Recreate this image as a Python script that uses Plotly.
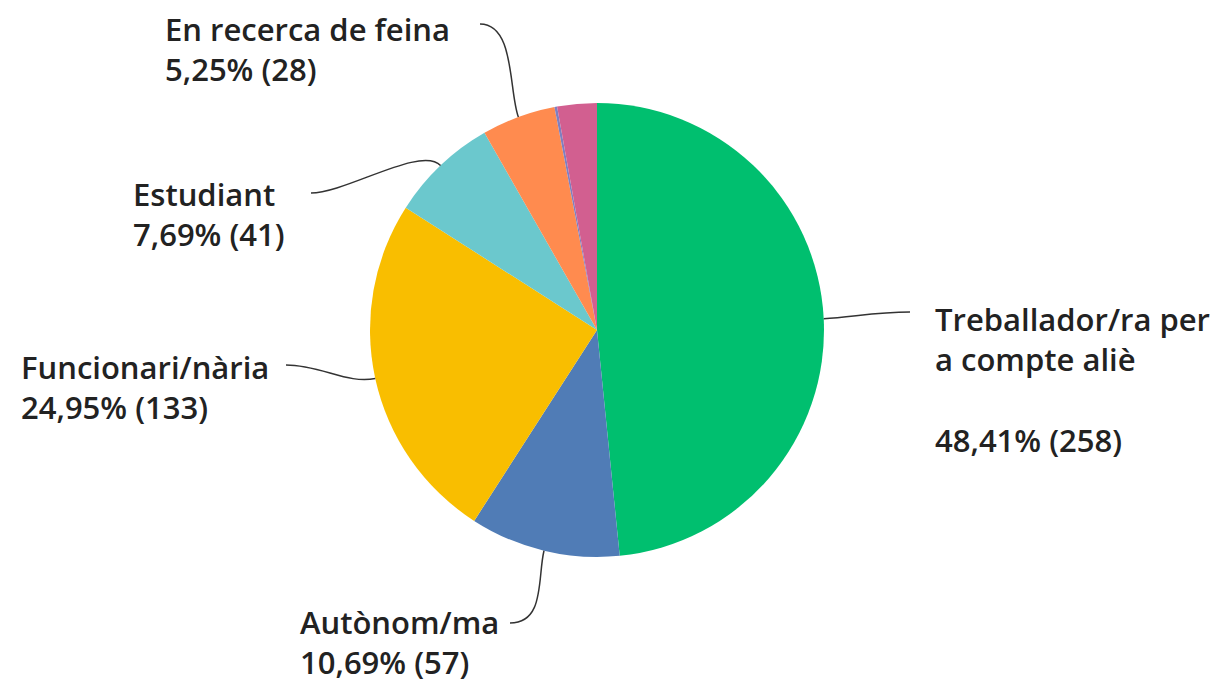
import math
import plotly.graph_objects as go

# ---- data ----
categories = ["Treballador/ra per a compte aliè", "Autònom/ma", "Funcionari/nària",
              "Estudiant", "En recerca de feina", "Altres", "Jubilat/ada"]
label_lines = [["Treballador/ra per", "a compte aliè", ""], ["Autònom/ma"], ["Funcionari/nària"],
               ["Estudiant"], ["En recerca de feina"], None, None]
values = [258, 57, 133, 41, 28, 1, 15]
colors = ["#00BF6F", "#507CB6", "#F9BE00", "#6BC8CD", "#FF8B4F", "#7F7FC0", "#D25F90"]

W, H = 1220, 685
total = sum(values)

# pie placement (pixels)
CX, CY, R = 597, 330, 227
dom_x = [(CX - R) / W, (CX + R) / W]
dom_y = [1 - (CY + R) / H, 1 - (CY - R) / H]

# label layout: (text left x, anchor y, y anchor, leader end x, leader end y)
label_layout = {
    0: (933, 296, "top", 910, 312),
    1: (298, 685, "bottom", 510, 623),
    2: (19, 344, "top", 286, 365),
    3: (131, 171, "top", 311, 193),
    4: (163, 6, "top", 480, 24),
}

FONT = dict(family="Open Sans", size=31, color="#222222", weight=600)

def px(x):
    return x / W

def py(y):
    return 1 - y / H

fig = go.Figure()
fig.add_trace(go.Pie(
    labels=categories, values=values, sort=False, direction="clockwise", rotation=0,
    marker=dict(colors=colors, line=dict(width=0)), textinfo="none",
    domain=dict(x=dom_x, y=dom_y), showlegend=False, hole=0,
))

shapes = []
annotations = []
cum = 0
for i, v in enumerate(values):
    mid = 2 * math.pi * (cum + v / 2) / total
    cum += v
    if label_lines[i] is None:
        continue
    pct = f"{100 * v / total:.2f}".replace(".", ",")
    lines = label_lines[i] + [f"{pct}% ({v})"]
    tx, ty, anchor, lx, ly = label_layout[i]
    annotations.append(dict(x=px(tx), y=py(ty), xref="paper", yref="paper",
                            xanchor="left", yanchor=anchor, align="left",
                            showarrow=False, text="<br>".join(lines), font=FONT))
    ex = CX + R * math.sin(mid)
    ey = CY - R * math.cos(mid)
    c1x = CX + (R + 28) * math.sin(mid)
    c1y = CY - (R + 28) * math.cos(mid)
    side = 1 if lx > CX else -1
    c2x = lx - side * 35
    c2y = ly
    path = (f"M {px(ex)},{py(ey)} C {px(c1x)},{py(c1y)} {px(c2x)},{py(c2y)} {px(lx)},{py(ly)}")
    shapes.append(dict(type="path", path=path, xref="paper", yref="paper",
                       line=dict(color="#333333", width=1.5)))

fig.update_layout(
    width=W, height=H, margin=dict(l=0, r=0, t=0, b=0),
    paper_bgcolor="white", plot_bgcolor="white",
    shapes=shapes, annotations=annotations,
)
fig.write_html("out.html", config={"displayModeBar": False},
               post_script="document.body.style.margin='0';")
